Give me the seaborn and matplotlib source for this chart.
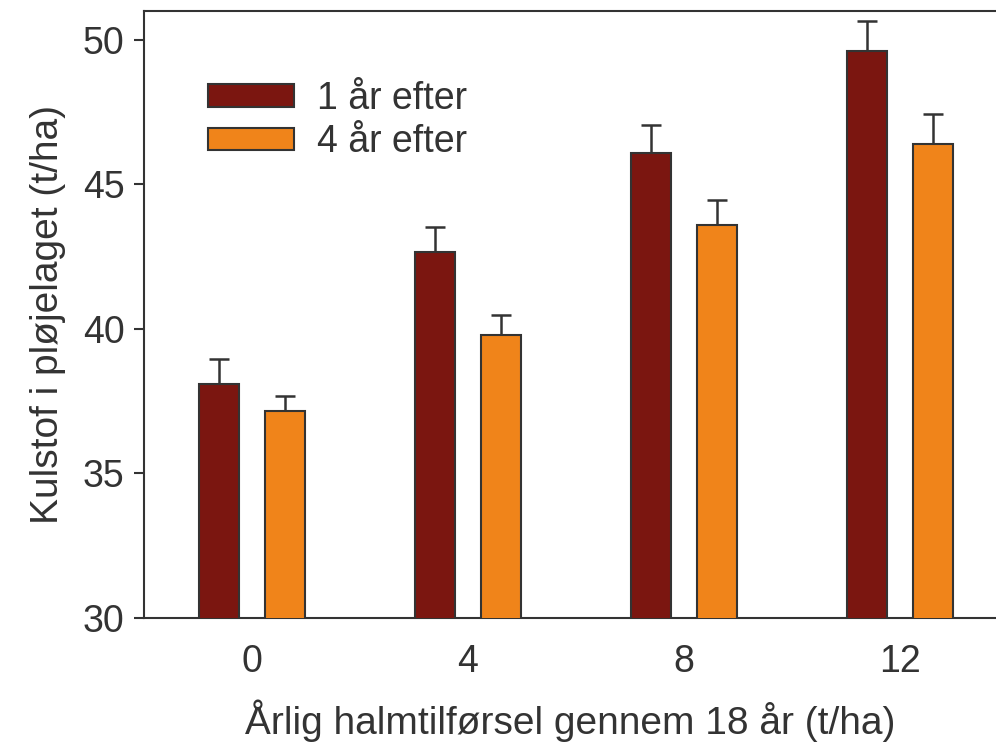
import matplotlib
matplotlib.use("Agg")
import matplotlib.pyplot as plt
import seaborn as sns
import pandas as pd
import numpy as np
from matplotlib.patches import Patch

categories = ["0", "4", "8", "12"]
series_names = ["1 år efter", "4 år efter"]
values_1 = [38.1, 42.65, 46.1, 49.6]
errors_1 = [0.87, 0.87, 0.97, 1.04]
values_4 = [37.15, 39.8, 43.6, 46.4]
errors_4 = [0.52, 0.69, 0.87, 1.04]
yticks = [30, 35, 40, 45, 50]

colors = ["#7B1610", "#F0841A"]
edge = "#333333"

sns.set_theme(style="white")
plt.rcParams['font.family'] = ['Liberation Sans', 'DejaVu Sans']

df = pd.DataFrame({
    "cat": categories * 2,
    "val": values_1 + values_4,
    "series": [series_names[0]] * 4 + [series_names[1]] * 4,
})

fig = plt.figure(figsize=(9.96, 7.43), dpi=100)
ax = fig.add_axes([144/996, 1 - 618/743, (996-144)/996, (618-11)/743])

sns.barplot(data=df, x="cat", y="val", hue="series", order=categories,
            hue_order=series_names, palette=colors, saturation=1,
            width=0.612, gap=0.395,
            errorbar=None, edgecolor=edge, linewidth=1.5, ax=ax, legend=False,
            zorder=3)

errs = [errors_1, errors_4]
vals = [values_1, values_4]
bar_conts = list(ax.containers)
for i, cont in enumerate(bar_conts):
    xs = [p.get_x() + p.get_width() / 2 for p in cont.patches]
    ax.errorbar(xs, vals[i], yerr=[np.zeros(len(xs)), errs[i]], fmt="none",
                ecolor=edge, elinewidth=1.8, capsize=7.5, capthick=1.8, zorder=2)

ax.set_ylim(30, 51)
ax.set_xlim(-0.5, -0.5 + 852/216)
ax.set_yticks(yticks)
ax.tick_params(axis="y", which="major", left=True, length=7, width=1.5,
               color=edge, labelsize=27, labelcolor="#333333", pad=7)
ax.tick_params(axis="x", bottom=False, labelsize=27, labelcolor="#333333", pad=13)

for s in ["left", "top", "bottom"]:
    ax.spines[s].set_color(edge)
    ax.spines[s].set_linewidth(1.5)
ax.spines["right"].set_visible(False)

ax.set_xlabel("Årlig halmtilførsel gennem 18 år (t/ha)", fontsize=28,
              color="#333333", labelpad=14)
ax.set_ylabel("Kulstof i pløjelaget (t/ha)", fontsize=28, color="#333333",
              labelpad=12)

handles = [Patch(facecolor=c, edgecolor=edge, linewidth=1.5) for c in colors]
ax.legend(handles, series_names, loc="upper left", bbox_to_anchor=(0.075, 0.885),
          borderaxespad=0, borderpad=0,
          frameon=False, fontsize=27, handlelength=2.3, handleheight=0.53,
          handletextpad=0.6, labelspacing=0.2, labelcolor="#333333")

fig.savefig("out.png", dpi=100)
